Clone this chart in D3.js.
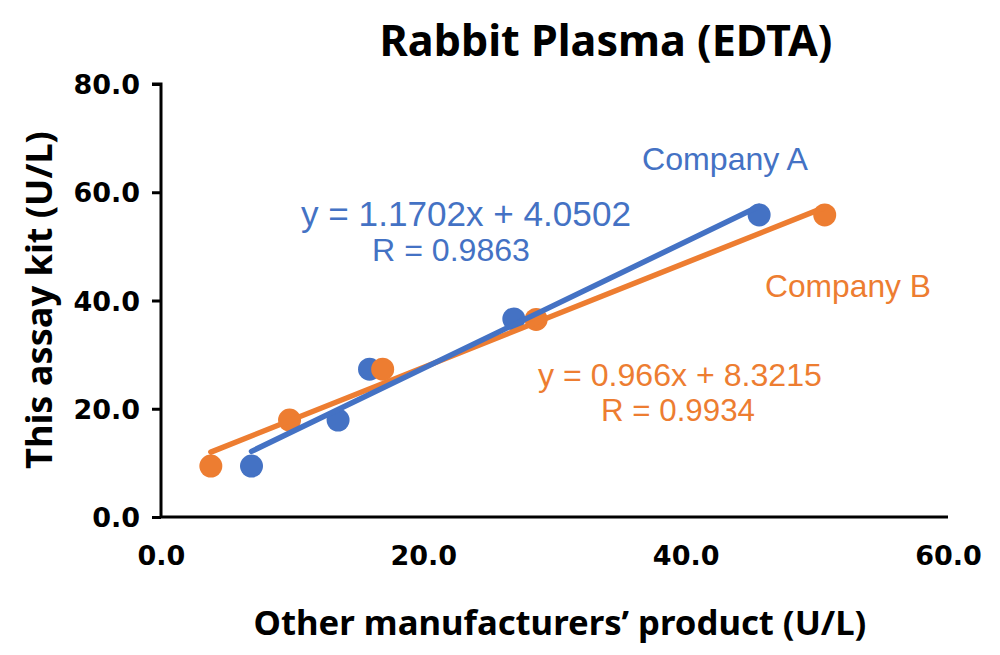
<!DOCTYPE html>
<html><head><meta charset="utf-8">
<script src="https://cdn.jsdelivr.net/npm/d3@7"></script>
<style>body{margin:0;background:#fff;} svg{display:block;}</style>
</head><body>
<svg id="c" width="1000" height="655"></svg>
<script>
const companyA_x = [6.9, 13.5, 15.9, 26.9, 45.6];
const companyA_y = [9.4, 17.9, 27.3, 36.6, 55.8];
const companyB_x = [3.8, 9.8, 16.9, 28.6, 50.6];
const companyB_y = [9.4, 17.9, 27.3, 36.5, 55.8];
const seriesNames = ["Company A", "Company B"];
const slopes = [1.1702, 0.966];
const intercepts = [4.0502, 8.3215];
const rValues = ["0.9863", "0.9934"];
const slopeLabels = ["1.1702", "0.966"];
const interceptLabels = ["4.0502", "8.3215"];
const xTicks = [0, 20, 40, 60];
const yTicks = [0, 20, 40, 60, 80];
const colors = ["#4472C4", "#ED7D31"];

const svg = d3.select("#c");
const x = d3.scaleLinear().domain([0, 60]).range([161, 948]);
const y = d3.scaleLinear().domain([0, 80]).range([517, 84]);
const boldFont = "'Noto Sans', 'DejaVu Sans', sans-serif";
const tickFont = "'DejaVu Sans', sans-serif";
const regFont = "'Liberation Sans', Arial, sans-serif";

function fit(sel, target) {
  const L = sel.node().getComputedTextLength();
  const fs = parseFloat(sel.attr("font-size"));
  sel.attr("font-size", fs * target / L);
  return sel;
}

// Axes
const yAxis = svg.append("g").attr("transform", "translate(161,0)")
  .call(d3.axisLeft(y).tickValues(yTicks).tickFormat(d3.format(".1f")).tickSize(9).tickPadding(12));
yAxis.attr("font-size", null).attr("font-family", null);
yAxis.select(".domain").attr("stroke", "#000").attr("stroke-width", 3).attr("d", "M-9,84H0V517");
yAxis.selectAll(".tick line").attr("stroke", "#000").attr("stroke-width", 3);
yAxis.selectAll(".tick text").attr("font-family", tickFont).attr("font-weight", "bold")
  .attr("font-size", 27).attr("fill", "#000").attr("dy", "0.36em").attr("x", -21);

const xAxis = svg.append("g").attr("transform", "translate(0,517)")
  .call(d3.axisBottom(x).tickValues(xTicks).tickFormat(d3.format(".1f")).tickSize(0).tickPadding(0));
xAxis.attr("font-size", null).attr("font-family", null);
xAxis.select(".domain").attr("stroke", "#000").attr("stroke-width", 3).attr("d", "M161,0H948");
xAxis.selectAll(".tick text").attr("font-family", tickFont).attr("font-weight", "bold")
  .attr("font-size", 27).attr("fill", "#000").attr("dy", null).attr("y", 48);

// Markers
const seriesX = [companyA_x, companyB_x];
const seriesY = [companyA_y, companyB_y];
[0, 1].forEach(i => {
  svg.append("g").selectAll("circle").data(seriesX[i].map((v, j) => [v, seriesY[i][j]]))
    .join("circle").attr("cx", d => x(d[0])).attr("cy", d => y(d[1])).attr("r", 11.5)
    .attr("fill", colors[i]);
});
// Trendlines
[1, 0].forEach(i => {
  const ext = d3.extent(seriesX[i]);
  const line = d3.line().x(d => x(d)).y(d => y(slopes[i] * d + intercepts[i]));
  svg.append("path").attr("d", line(ext)).attr("stroke", colors[i]).attr("stroke-width", 5.5)
    .attr("fill", "none").attr("stroke-linecap", "round");
});

// Title
fit(svg.append("text").attr("x", 606).attr("y", 56).attr("text-anchor", "middle")
  .attr("font-family", boldFont).attr("font-weight", "bold").attr("font-size", 30)
  .text("Rabbit Plasma (EDTA)"), 453);

// Axis titles
fit(svg.append("text").attr("x", 560).attr("y", 635).attr("text-anchor", "middle")
  .attr("font-family", boldFont).attr("font-weight", "bold").attr("font-size", 26)
  .text("Other manufacturers\u2019 product (U/L)"), 613);
fit(svg.append("text").attr("transform", "translate(52,300) rotate(-90)").attr("text-anchor", "middle")
  .attr("font-family", boldFont).attr("font-weight", "bold").attr("font-size", 26)
  .text("This assay kit (U/L)"), 338);

// Annotations
const ann = [
  {t: "y = " + slopeLabels[0] + "x + " + interceptLabels[0], x: 466, y: 226, w: 330, c: 0},
  {t: "R = " + rValues[0], x: 451, y: 261, w: 158, c: 0},
  {t: "y = " + slopeLabels[1] + "x + " + interceptLabels[1], x: 680, y: 386, w: 284, c: 1},
  {t: "R = " + rValues[1], x: 678, y: 421, w: 154, c: 1},
  {t: seriesNames[0], x: 725, y: 170, w: 166, c: 0},
  {t: seriesNames[1], x: 848, y: 297, w: 166, c: 1}
];
ann.forEach(a => {
  fit(svg.append("text").attr("x", a.x).attr("y", a.y).attr("text-anchor", "middle")
    .attr("font-family", regFont).attr("font-size", 26).attr("fill", colors[a.c]).text(a.t), a.w);
});
</script>
</body></html>
